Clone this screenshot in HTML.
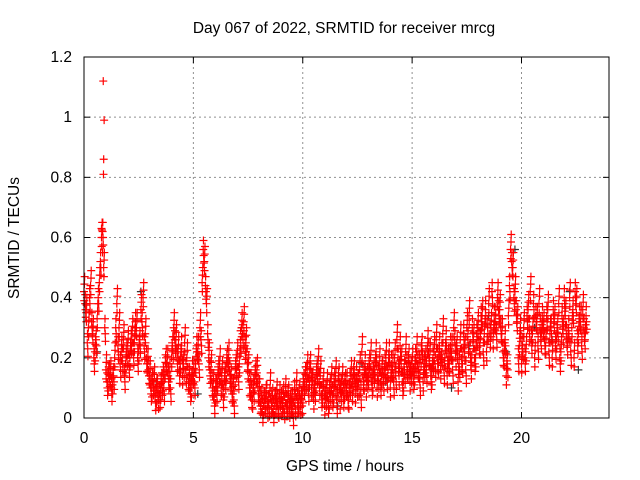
<!DOCTYPE html>
<html><head><meta charset="utf-8"><style>
body{margin:0;background:#fff}
svg{display:block;font-family:"Liberation Sans",sans-serif}
</style></head><body>
<svg id="chart" width="640" height="480">
<text x="344" y="33" font-size="15.5" text-anchor="middle">Day 067 of 2022, SRMTID for receiver mrcg</text>
<text x="345" y="471" font-size="15.5" text-anchor="middle">GPS time / hours</text>
<text transform="translate(19,238) rotate(-90)" font-size="15.5" text-anchor="middle">SRMTID / TECUs</text>
<g id="grid"></g>
<g id="ticks"></g>
<g id="gray"></g>
<g id="red"></g>
<rect x="84" y="57" width="525" height="361" fill="none" stroke="#000" stroke-width="1"/>
</svg>
<script>
const xTicks=[0,5,10,15,20];
const yTicks=[0,0.2,0.4,0.6,0.8,1,1.2];
const yTickLabels=["0","0.2","0.4","0.6","0.8","1","1.2"];
const redA=[0.42,0.35,0.30,0.44,0.28,0.22,0.33,0.45,0.60,0.50,
0.16,0.12,0.14,0.11,0.20,0.38,0.30,0.22,0.26,0.18,
0.24,0.20,0.28,0.25,0.30,0.22,0.36,0.40,0.28,0.18,
0.14,0.10,0.12,0.08,0.06,0.09,0.12,0.16,0.18,0.13,
0.20,0.30,0.26,0.22,0.18,0.14,0.25,0.20,0.12,0.10,
0.14,0.18,0.22,0.30,0.45,0.52,0.38,0.20,0.16,0.10,
0.08,0.12,0.18,0.14,0.10,0.16,0.20,0.12,0.08,0.14,
0.20,0.18,0.30,0.32,0.25,0.16,0.10,0.06,0.12,0.15,
0.08,0.05,0.04,0.06,0.03,0.10,0.05,0.04,0.07,0.03,
0.04,0.06,0.08,0.05,0.03,0.04,0.07,0.10,0.05,0.04,
0.08,0.12,0.16,0.14,0.10,0.06,0.12,0.18,0.14,0.08,
0.04,0.10,0.06,0.12,0.08,0.14,0.10,0.06,0.12,0.09,
0.10,0.06,0.14,0.12,0.08,0.10,0.16,0.22,0.12,0.10,
0.14,0.20,0.12,0.16,0.10,0.18,0.14,0.12,0.20,0.16,
0.10,0.16,0.20,0.26,0.14,0.18,0.12,0.22,0.16,0.12,
0.18,0.14,0.22,0.16,0.20,0.12,0.18,0.24,0.20,0.14,
0.22,0.26,0.18,0.16,0.28,0.20,0.14,0.18,0.22,0.30,
0.20,0.12,0.26,0.18,0.22,0.30,0.34,0.16,0.26,0.20,
0.30,0.24,0.34,0.28,0.22,0.38,0.30,0.26,0.32,0.40,
0.36,0.28,0.20,0.14,0.34,0.56,0.50,0.42,0.32,0.24,
0.18,0.30,0.22,0.36,0.42,0.28,0.20,0.32,0.38,0.26,
0.30,0.24,0.36,0.28,0.20,0.32,0.26,0.38,0.22,0.28,
0.34,0.24,0.40,0.30,0.20,0.38,0.28,0.32,0.36,0.26];
const redB=[0.38,0.25,0.40,0.32,0.20,0.26,0.40,0.52,0.62,0.30,
0.12,0.15,0.10,0.14,0.30,0.24,0.18,0.20,0.14,0.22,
0.18,0.26,0.22,0.32,0.20,0.26,0.32,0.24,0.20,0.16,
0.10,0.12,0.07,0.10,0.08,0.12,0.10,0.20,0.14,0.10,
0.24,0.26,0.20,0.16,0.24,0.18,0.16,0.14,0.10,0.16,
0.12,0.24,0.18,0.26,0.56,0.44,0.28,0.16,0.12,0.06,
0.10,0.16,0.12,0.08,0.14,0.20,0.16,0.10,0.06,0.18,
0.14,0.26,0.28,0.24,0.20,0.12,0.08,0.10,0.16,0.10,
0.06,0.03,0.06,0.08,0.05,0.06,0.03,0.06,0.05,0.08,
0.06,0.04,0.05,0.08,0.06,0.02,0.05,0.06,0.08,0.06,
0.12,0.14,0.10,0.18,0.12,0.10,0.16,0.12,0.08,0.12,
0.08,0.06,0.10,0.08,0.12,0.06,0.14,0.10,0.08,0.12,
0.08,0.12,0.10,0.16,0.14,0.12,0.08,0.14,0.18,0.14,
0.18,0.12,0.16,0.22,0.14,0.12,0.16,0.18,0.14,0.22,
0.18,0.12,0.14,0.20,0.24,0.12,0.16,0.18,0.20,0.16,
0.14,0.20,0.18,0.12,0.24,0.18,0.16,0.22,0.14,0.20,
0.18,0.20,0.24,0.22,0.16,0.26,0.20,0.24,0.16,0.26,
0.24,0.18,0.20,0.28,0.16,0.26,0.22,0.30,0.20,0.28,
0.26,0.34,0.22,0.36,0.30,0.28,0.42,0.34,0.28,0.36,
0.30,0.22,0.26,0.18,0.44,0.52,0.40,0.36,0.20,0.30,
0.24,0.20,0.34,0.30,0.26,0.38,0.34,0.24,0.30,0.34,
0.26,0.34,0.22,0.30,0.36,0.24,0.30,0.20,0.34,0.40,
0.28,0.30,0.22,0.36,0.42,0.26,0.34,0.24,0.30,0.34];
const spikeTimes=[0.88,0.92,0.90,0.89,0.80,0.85];
const spikeValues=[1.12,0.99,0.86,0.81,0.63,0.55];
const grayTimes=[0.1,0.6,1.2,2.6,3.3,4.4,5.2,6.2,7.2,8.6,9.5,10.3,11.6,12.7,13.8,14.9,15.9,16.8,17.6,18.5,19.3,19.7,20.6,21.4,22.2,22.6];
const grayValues=[0.38,0.22,0.14,0.42,0.12,0.16,0.08,0.12,0.30,0.05,0.06,0.10,0.04,0.18,0.12,0.14,0.16,0.10,0.24,0.34,0.22,0.56,0.30,0.26,0.42,0.16];
const ns="http://www.w3.org/2000/svg";
const X=t=>84+t*(525/24);
const Y=v=>418-v*(361/1.2);
function mk(tag,attrs,parent){const e=document.createElementNS(ns,tag);for(const k in attrs)e.setAttribute(k,attrs[k]);parent.appendChild(e);return e;}
const grid=document.getElementById('grid'),ticks=document.getElementById('ticks');
xTicks.forEach(t=>{
  if(t>0){const g=mk('line',{x1:X(t),x2:X(t),y1:57,y2:418,stroke:'#909090','stroke-dasharray':'2,3'},grid);
  
  }
  const l=mk('text',{x:X(t),y:443,'font-size':15.5,'text-anchor':'middle'},ticks);l.textContent=t;
  
  
  mk('line',{x1:X(t),x2:X(t),y1:418,y2:412,stroke:'#000'},ticks);
  mk('line',{x1:X(t),x2:X(t),y1:57,y2:63,stroke:'#000'},ticks);
});
yTicks.forEach((v,i)=>{
  if(v>0&&v<1.2){const g=mk('line',{x1:84,x2:609,y1:Y(v),y2:Y(v),stroke:'#909090','stroke-dasharray':'2,3'},grid);
  
  }
  const l=mk('text',{x:72,y:Y(v)+5,'font-size':15.5,'text-anchor':'end'},ticks);l.textContent=yTickLabels[i];
  
  
  mk('line',{x1:84,x2:90,y1:Y(v),y2:Y(v),stroke:'#000'},ticks);
  mk('line',{x1:609,x2:603,y1:Y(v),y2:Y(v),stroke:'#000'},ticks);
});
function plus(t,v,col,parent){
  const x=X(t),y=Y(v);
  const p=mk('path',{d:`M${x-4},${y}h8M${x},${y-4}v8`,stroke:col,'stroke-width':1.2,fill:'none'},parent);
  
  
}
const gG=document.getElementById('gray'),gR=document.getElementById('red');
grayTimes.forEach((t,i)=>plus(t,grayValues[i],'#333',gG));
redA.forEach((v,i)=>{plus(i*0.1,v,'#f00',gR);plus(i*0.1+0.02,v+0.025,'#f00',gR);plus(i*0.1+0.01,v-0.03,'#f00',gR);plus(i*0.1+0.03,v+0.05,'#f00',gR);});
redB.forEach((v,i)=>{plus(i*0.1+0.05,v,'#f00',gR);plus(i*0.1+0.07,v-0.02,'#f00',gR);plus(i*0.1+0.06,v+0.03,'#f00',gR);plus(i*0.1+0.08,v-0.045,'#f00',gR);});
spikeTimes.forEach((t,i)=>plus(t,spikeValues[i],'#f00',gR));
</script>
</body></html>
